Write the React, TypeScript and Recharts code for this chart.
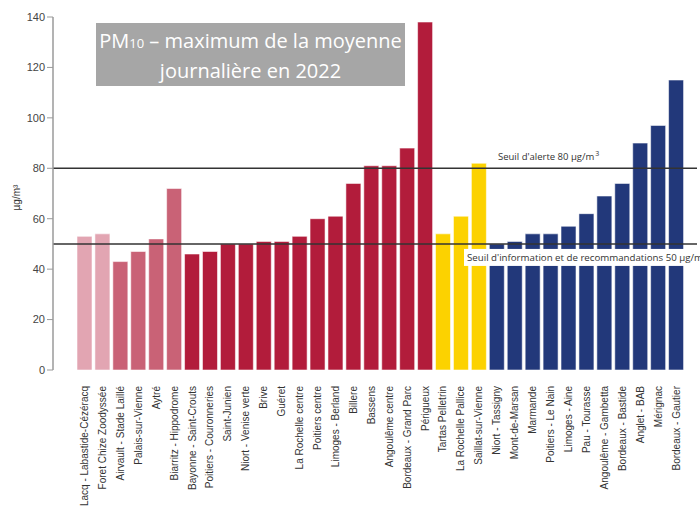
import { BarChart, Bar, XAxis, YAxis, ReferenceLine, Cell, Label } from "recharts";

const stations = [
  "ZI Lacq - Labastide-Cézéracq",
  "Foret Chize Zoodyssée",
  "Airvault - Stade Laillé",
  "Palais-sur-Vienne",
  "Aytré",
  "Biarritz - Hippodrome",
  "Bayonne - Saint-Crouts",
  "Poitiers - Couronneries",
  "Saint-Junien",
  "Niort - Venise verte",
  "Brive",
  "Guéret",
  "La Rochelle centre",
  "Poitiers centre",
  "Limoges - Berland",
  "Billere",
  "Bassens",
  "Angoulême centre",
  "Bordeaux - Grand Parc",
  "Périgueux",
  "Tartas Pelletrin",
  "La Rochelle Pallice",
  "Saillat-sur-Vienne",
  "Niort - Tassigny",
  "Mont-de-Marsan",
  "Marmande",
  "Poitiers - Le Nain",
  "Limoges - Aine",
  "Pau - Tourasse",
  "Angoulême - Gambetta",
  "Bordeaux - Bastide",
  "Anglet - BAB",
  "Mérignac",
  "Bordeaux - Gautier",
];

const maxValues = [
  53, 54, 43, 47, 52, 72, 46, 47, 50, 50, 51, 51, 53, 60, 61, 74, 81, 81, 88, 138,
  54, 61, 82, 50, 51, 54, 54, 57, 62, 69, 74, 90, 97, 115,
];

// station group per bar: 0 light pink, 1 pink, 2 crimson, 3 yellow, 4 navy
const groups = [
  0, 0, 1, 1, 1, 1, 2, 2, 2, 2, 2, 2, 2, 2, 2, 2, 2, 2, 2, 2,
  3, 3, 3, 4, 4, 4, 4, 4, 4, 4, 4, 4, 4, 4,
];

const groupColors = ["#E2A5B2", "#C96276", "#B21C3B", "#FCD200", "#22387A"];

const yTicks = [0, 20, 40, 60, 80, 100, 120, 140];

const data = stations.map((name, i) => ({ name, value: maxValues[i], group: groups[i] }));

const FONT = "'Liberation Sans', Arial, sans-serif";
const LABEL_FONT = "'Open Sans', 'Noto Sans', sans-serif";

function StationTick({ x, y, payload }: { x?: number; y?: number; payload?: { value: string } }) {
  return (
    <text
      x={0}
      y={0}
      transform={`translate(${(x ?? 0) + 3.5},${(y ?? 0) + 8}) rotate(-90)`}
      textAnchor="end"
      fontSize={10}
      fontFamily={FONT}
      fill="#333"
    >
      {payload?.value}
    </text>
  );
}

function AlertLabel({ viewBox }: { viewBox?: { x: number; y: number; width: number } }) {
  if (!viewBox) return null;
  return (
    <text x={viewBox.x + 445} y={viewBox.y - 8} fontSize={9.5} fontFamily={LABEL_FONT} fill="#333">
      Seuil d'alerte 80 µg/m
      <tspan dx={1} dy={-4} fontSize={7}>3</tspan>
    </text>
  );
}

function InfoLabel({ viewBox }: { viewBox?: { x: number; y: number; width: number } }) {
  if (!viewBox) return null;
  const x = viewBox.x + 414;
  const y = viewBox.y;
  return (
    <g>
      <rect x={x - 3} y={y + 5} width={260} height={17} fill="#fff" />
      <text x={x} y={y + 17} fontSize={9.7} fontFamily={LABEL_FONT} fill="#333">
        Seuil d'information et de recommandations 50 µg/m
        <tspan dx={1} dy={-4} fontSize={7}>3</tspan>
      </text>
    </g>
  );
}

export default function App() {
  return (
    <div style={{ position: "absolute", left: 0, top: 0, width: 700, height: 506, background: "#fff", overflow: "hidden" }}>
      <BarChart
        width={700}
        height={506}
        data={data}
        margin={{ top: 17, right: 3, bottom: 0, left: 0 }}
        barCategoryGap={1.5}
      >
        <XAxis
          dataKey="name"
          interval={0}
          height={136}
          axisLine={false}
          tickLine={false}
          padding={{ left: 22.5, right: 12 }}
          tick={<StationTick />}
        />
        <YAxis
          domain={[0, 140]}
          ticks={yTicks}
          width={53}
          interval={0}
          axisLine={{ stroke: "#9A9A9A", strokeWidth: 1.5 }}
          tickLine={{ stroke: "#9A9A9A" }}
          tickSize={6}
          tick={{ fontSize: 11, fill: "#444", fontFamily: FONT }}
        >
          <Label
            value="µg/m³"
            angle={-90}
            position="insideLeft"
            offset={16}
            dy={4}
            style={{ fontSize: 10, fill: "#333", fontFamily: FONT, textAnchor: "middle" }}
          />
        </YAxis>
        <Bar dataKey="value" isAnimationActive={false} stroke="#ffffff" strokeOpacity={0.55} strokeWidth={1}>
          {data.map((d, i) => (
            <Cell key={i} fill={groupColors[d.group]} />
          ))}
        </Bar>
        <ReferenceLine y={80} stroke="#333" strokeWidth={1.5} label={<AlertLabel />} />
        <ReferenceLine y={50} stroke="#333" strokeWidth={1.5} label={<InfoLabel />} />
      </BarChart>
      <div
        style={{
          position: "absolute",
          left: 96,
          top: 23,
          width: 309,
          height: 63,
          background: "#A6A6A6",
          color: "#fff",
          fontFamily: LABEL_FONT,
          fontSize: 20,
          lineHeight: "27px",
          textAlign: "center",
          paddingTop: 4,
          boxSizing: "border-box",
        }}
      >
        PM<span style={{ fontSize: 13 }}>10</span> – maximum de la moyenne
        <br />
        journalière en 2022
      </div>
    </div>
  );
}
